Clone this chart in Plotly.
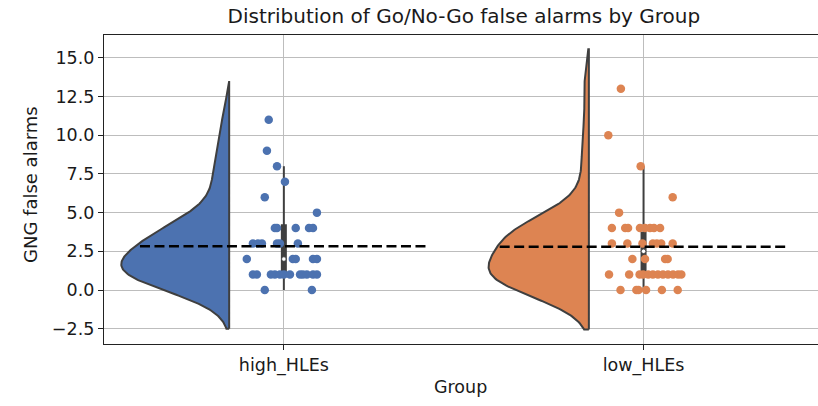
import numpy as np
import plotly.graph_objects as go

# ---------------- data ----------------
categories = ["high_HLEs", "low_HLEs"]
colors = ["#4C72B0", "#DD8452"]

# GNG false alarms per participant
high_values = [11, 9, 8, 7, 6, 5,
               4, 4, 4, 4, 4,
               3, 3, 3, 3, 3, 3,
               2, 2, 2, 2, 2,
               1, 1, 1, 1, 1, 1, 1, 1, 1, 1, 1, 1,
               0, 0]
# horizontal strip jitter (category units) as seen in the picture
high_jitter = [-0.042, -0.047, -0.019, 0.003, -0.053, 0.092,
               -0.025, -0.019, 0.033, 0.070, 0.081,
               -0.086, -0.072, -0.061, -0.019, -0.011, 0.039,
               -0.103, 0.025, 0.033, 0.081, 0.092,
               -0.086, -0.075, -0.036, -0.025, -0.011, 0.000, 0.017, 0.045, 0.053, 0.064, 0.081, 0.092,
               -0.053, 0.078]

low_values = [13, 10, 8, 6, 5,
              4, 4, 4, 4, 4, 4, 4, 4,
              3, 3, 3, 3, 3, 3, 3,
              2, 2, 2, 2,
              1, 1, 1, 1, 1, 1, 1, 1, 1, 1, 1, 1,
              0, 0, 0, 0, 0, 0]
low_jitter = [-0.063, -0.098, -0.008, 0.081, -0.068,
              -0.088, -0.051, -0.043, -0.010, 0.004, 0.018, 0.029, 0.046,
              -0.088, -0.045, -0.003, 0.026, 0.037, 0.049, 0.081,
              -0.031, 0.004, 0.060, 0.067,
              -0.096, -0.040, -0.011, -0.001, 0.013, 0.026, 0.040, 0.054, 0.068, 0.082, 0.096, 0.105,
              -0.064, -0.020, -0.014, 0.007, 0.051, 0.095]

# inner box statistics as drawn in the picture
box_q1 = [1.0, 1.0]
box_median = [2.0, 2.5]
box_q3 = [4.25, 3.75]
box_low = [0.0, 0.0]
box_high = [8.0, 8.0]

# dashed mean lines
group_means = [2.82, 2.80]

y_tick_vals = [-2.5, 0.0, 2.5, 5.0, 7.5, 10.0, 12.5, 15.0]

values_list = [high_values, low_values]
jitter_list = [high_jitter, low_jitter]

# ---------------- styling constants ----------------
FONT = "DejaVu Sans"
TXT = "#1a1a1a"
GRAY = "#3f3f3f"
GRID = "#bdbdbd"
VIOLIN_OFFSET = -0.152   # flat edge of the half violin relative to category
VIOLIN_MAX_HALF = 0.30
MEAN_HALF = 0.40

fig = go.Figure()


def kde(data):
    d = np.asarray(data, dtype=float)
    n = d.size
    bw = d.std(ddof=1) * n ** (-1 / 5)
    grid = np.linspace(d.min() - 2 * bw, d.max() + 2 * bw, 300)
    dens = np.exp(-0.5 * ((grid[:, None] - d[None, :]) / bw) ** 2).sum(axis=1)
    dens /= n * bw * np.sqrt(2 * np.pi)
    return grid, dens


kdes = [kde(v) for v in values_list]
global_max = max(k[1].max() for k in kdes)

# half violins
for i, (grid, dens) in enumerate(kdes):
    edge = i + VIOLIN_OFFSET
    xs = edge - dens / global_max * VIOLIN_MAX_HALF
    px = np.concatenate([[edge], xs, [edge, edge]])
    py = np.concatenate([[grid[0]], grid, [grid[-1], grid[0]]])
    fig.add_trace(go.Scatter(x=px, y=py, mode="lines", fill="toself",
                             fillcolor=colors[i],
                             line=dict(color=GRAY, width=2),
                             hoverinfo="skip", showlegend=False))

# inner boxes
for i in range(len(categories)):
    fig.add_trace(go.Scatter(x=[i, i], y=[box_low[i], box_high[i]], mode="lines",
                             line=dict(color=GRAY, width=2), showlegend=False,
                             hoverinfo="skip"))
    fig.add_trace(go.Scatter(x=[i, i], y=[box_q1[i], box_q3[i]], mode="lines",
                             line=dict(color=GRAY, width=6), showlegend=False,
                             hoverinfo="skip"))

# strip points
for i in range(len(categories)):
    xs = [i + j for j in jitter_list[i]]
    fig.add_trace(go.Scatter(x=xs, y=values_list[i], mode="markers",
                             marker=dict(color=colors[i], size=8.5, line=dict(width=0)),
                             showlegend=False, name=categories[i]))

# medians (white dots)
for i in range(len(categories)):
    fig.add_trace(go.Scatter(x=[i], y=[box_median[i]], mode="markers",
                             marker=dict(color="white", size=4.5,
                                         line=dict(color=GRAY, width=0.8)),
                             showlegend=False, hoverinfo="skip"))

# mean lines
for i in range(len(categories)):
    fig.add_trace(go.Scatter(x=[i - MEAN_HALF, i + MEAN_HALF],
                             y=[group_means[i], group_means[i]], mode="lines",
                             line=dict(color="black", width=2.5, dash="10px,4.5px"),
                             showlegend=False, hoverinfo="skip"))

L, T, B = 104, 35, 62
W, H = 818, 406
fig.update_layout(
    width=W, height=H,
    margin=dict(l=L, r=0, t=T, b=B, pad=0),
    paper_bgcolor="white", plot_bgcolor="white",
    font=dict(family=FONT, color=TXT, size=17),
    showlegend=False,
    title=dict(text="Distribution of Go/No-Go false alarms by Group",
               font=dict(family=FONT, size=20, color=TXT),
               x=0.504, xref="paper", xanchor="center",
               y=1 - 16 / H, yref="container", yanchor="middle"),
)
fig.update_xaxes(
    range=[-0.5, 1.485], tickmode="array", tickvals=list(range(len(categories))),
    ticktext=categories, showgrid=True, gridcolor=GRID, gridwidth=1.2,
    zeroline=False, showline=True, linecolor="#222", linewidth=1.3, mirror=True,
    ticks="outside", ticklen=5, tickwidth=1.2, tickcolor="#222",
    tickfont=dict(size=17.5, family=FONT, color=TXT),
)
fig.update_yaxes(
    range=[-3.49, 16.48], tickmode="array", tickvals=y_tick_vals,
    ticktext=[f"{v:.1f}".replace("-", "\u2212") for v in y_tick_vals],
    showgrid=True, gridcolor=GRID, gridwidth=1.2,
    zeroline=False, showline=True, linecolor="#222", linewidth=1.3, mirror=False,
    ticks="outside", ticklen=5, tickwidth=1.2, tickcolor="#222",
    tickfont=dict(size=17.5, family=FONT, color=TXT),
)

plot_w = W - L
plot_h = H - T - B
# axis titles as annotations for precise placement
fig.add_annotation(text="Group", xref="paper", yref="paper",
                   x=(460 - L) / plot_w, y=-(387 - (H - B)) / plot_h,
                   xanchor="center", yanchor="middle", showarrow=False,
                   font=dict(size=17.5, family=FONT, color=TXT))
fig.add_annotation(text="GNG false alarms", xref="paper", yref="paper",
                   x=-(L - 30) / plot_w, y=((H - B) - 185) / plot_h,
                   xanchor="center", yanchor="middle", showarrow=False, textangle=-90,
                   font=dict(size=18, family=FONT, color=TXT))

fig.write_html("out.html")
